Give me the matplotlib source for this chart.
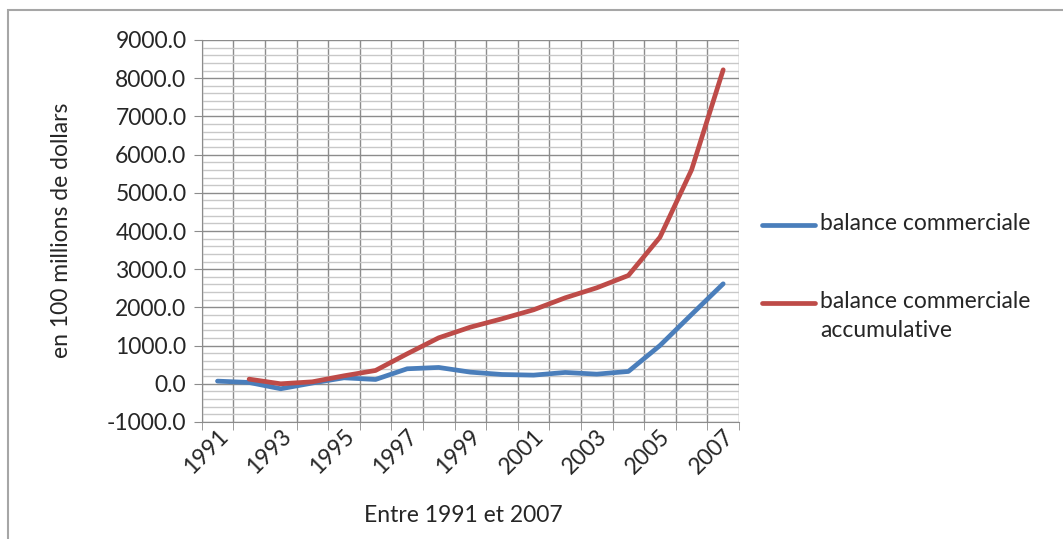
import numpy as np
import matplotlib
matplotlib.use("Agg")
import matplotlib.pyplot as plt
from matplotlib.patches import Rectangle
from matplotlib.lines import Line2D
from matplotlib.ticker import MultipleLocator, FixedLocator

years = list(range(1991, 2008))
balance = [70, 35, -130, 20, 157, 113, 393, 428, 305, 244, 227, 297, 253, 323, 1003, 1815, 2618]
balance_acc = [np.nan, 122, 0, 52, 209, 349, 785, 1204, 1483, 1702, 1937, 2251, 2513, 2836, 3839, 5602, 8220]
tick_years = [str(y) for y in years[::2]]
series_names = ["balance commerciale", "balance commerciale\naccumulative"]
colors = ['#4A7EBB', '#BE4B48']

plt.rcParams['font.family'] = ['Lato', 'DejaVu Sans']
FS = 16.5
TC = '#262626'
W, H = 1063, 539
fig = plt.figure(figsize=(W / 100, H / 100), dpi=100)
ax = fig.add_axes([201.7 / W, 1 - 422 / H, (739 - 201.7) / W, (422 - 40) / H])

x = np.arange(len(years))
l1, = ax.plot(x, balance, color=colors[0], lw=3.4, solid_capstyle='round', zorder=3)
l2, = ax.plot(x, balance_acc, color=colors[1], lw=3.4, solid_capstyle='round', zorder=3)

ax.set_xlim(-0.5, len(years) - 0.5)
ax.set_ylim(-1000, 9000)
ax.yaxis.set_minor_locator(MultipleLocator(200))
yt = np.arange(-1000, 9001, 1000)
ax.set_yticks(yt)
ax.set_yticklabels([f"{v:.1f}" for v in yt])

ax.set_xticks(x[::2])
ax.set_xticklabels(tick_years, rotation=45, ha='right', va='center', rotation_mode='anchor')
ax.xaxis.set_minor_locator(FixedLocator(np.arange(-0.5, len(years), 1)))

ax.grid(which='minor', axis='y', color='#C8C8C8', lw=1.0, zorder=0)
ax.grid(which='major', axis='y', color='#8C8C8C', lw=1.0, zorder=1)
ax.grid(which='minor', axis='x', color='#8C8C8C', lw=1.0, zorder=1)
ax.set_axisbelow(True)

ax.tick_params(axis='y', which='major', length=6, color='#8C8C8C', labelsize=FS, pad=5, labelcolor=TC)
ax.tick_params(axis='y', which='minor', length=0)
ax.tick_params(axis='x', which='major', length=0, labelsize=FS, pad=8, labelcolor=TC)
ax.tick_params(axis='x', which='minor', length=6, color='#8C8C8C')
for lbl in ax.get_xticklabels():
    lbl.set_x(lbl.get_position()[0])
from matplotlib.transforms import ScaledTranslation
offset = ScaledTranslation(7 / 100, 0, fig.dpi_scale_trans)
for lbl in ax.get_xticklabels():
    lbl.set_transform(lbl.get_transform() + offset)
for s in ['top', 'right']:
    ax.spines[s].set_visible(False)
for s in ['left', 'bottom']:
    ax.spines[s].set_color('#8C8C8C')

fig.text(62 / W, 1 - 230 / H, "en 100 millions de dollars", rotation=90, ha='center', va='center',
         fontsize=FS, color=TC)
fig.text(463 / W, 1 - 516 / H, "Entre 1991 et 2007", ha='center', va='center', fontsize=FS, color=TC)

# legend
leg_y = [225, 303]
for name, c, yy in zip(series_names, colors, leg_y):
    fig.add_artist(Line2D([762 / W, 815 / W], [1 - yy / H, 1 - yy / H], transform=fig.transFigure,
                          color=c, lw=3.4, solid_capstyle='round'))
    fig.text(820 / W, 1 - (yy - 12) / H, name, ha='left', va='top', fontsize=FS, color=TC,
             linespacing=1.45)

fig.patches.append(Rectangle((8 / W, -0.1), 1.2, 1.1 - 10 / H, transform=fig.transFigure,
                             fill=False, edgecolor='#A6A6A6', lw=1.5))

fig.savefig("out.png", dpi=100)
